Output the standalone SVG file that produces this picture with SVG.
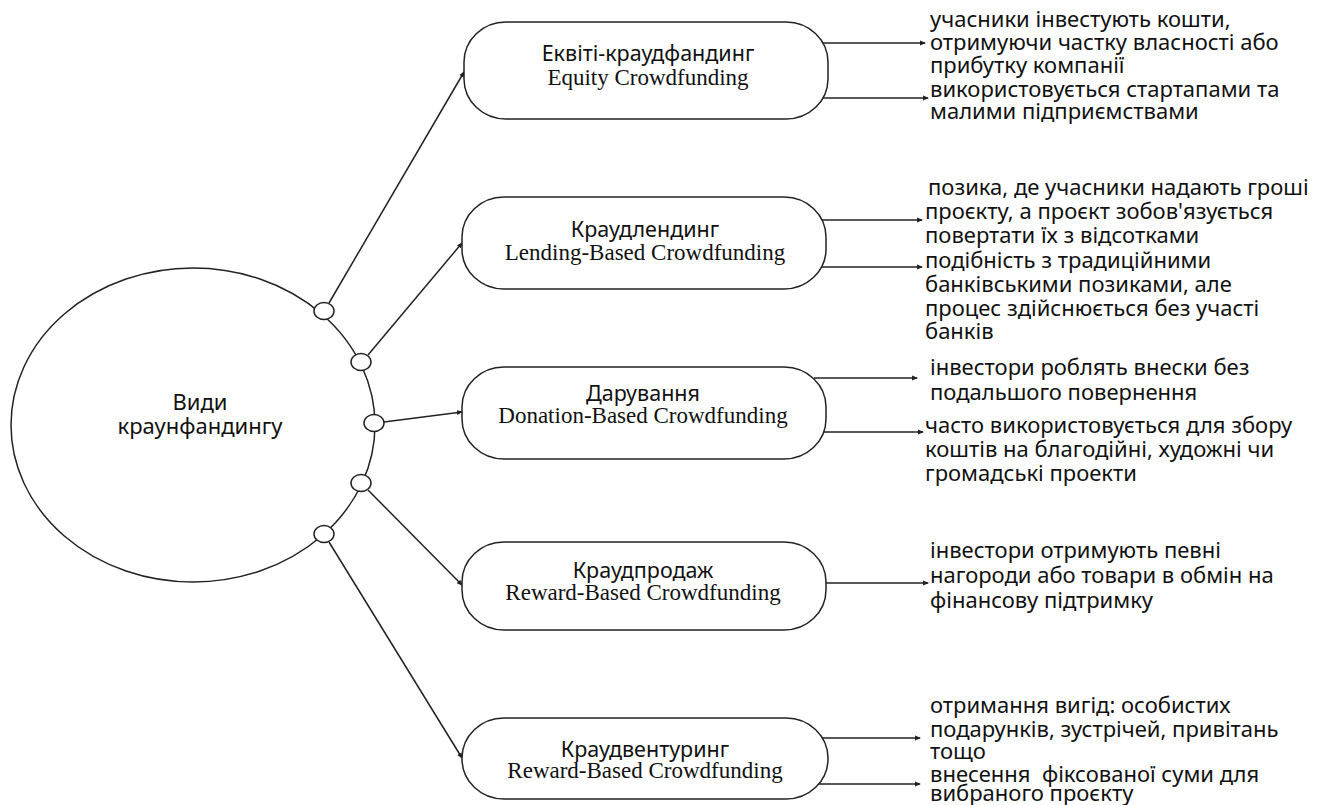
<svg xmlns="http://www.w3.org/2000/svg" width="1333" height="805" viewBox="0 0 1333 805">
<defs>
<marker id="ah" markerWidth="6" markerHeight="6" refX="5" refY="3" orient="auto" markerUnits="userSpaceOnUse">
<path d="M0,0.5 L6,3 L0,5.5 Z" fill="#222"/>
</marker>
<style>
.ln{stroke:#222;stroke-width:1.5;fill:none}
.box{fill:#fff;stroke:#222;stroke-width:1.5}
.dot{fill:#fff;stroke:#222;stroke-width:1.5}
.t1{font-family:"Noto Sans","Open Sans",sans-serif;font-size:21.5px;fill:#111;text-anchor:middle}
.t2{font-family:"Liberation Serif","Times New Roman",serif;font-size:23px;fill:#111;text-anchor:middle}
.d{font-family:"Noto Sans","Open Sans",sans-serif;font-size:22px;fill:#111}
.c{font-family:"Noto Sans","Open Sans",sans-serif;font-size:22px;fill:#111;text-anchor:middle}
</style>
</defs>
<rect width="1333" height="805" fill="#fff"/>
<g id="connectors">
<line class="ln" x1="329" y1="303" x2="464" y2="72" marker-end="url(#ah)"/>
<line class="ln" x1="368" y1="355" x2="462" y2="243" marker-end="url(#ah)"/>
<line class="ln" x1="384" y1="422" x2="462" y2="412" marker-end="url(#ah)"/>
<line class="ln" x1="368" y1="490" x2="462" y2="585" marker-end="url(#ah)"/>
<line class="ln" x1="329" y1="542" x2="462" y2="758" marker-end="url(#ah)"/>
<line class="ln" x1="823" y1="43" x2="925" y2="43" marker-end="url(#ah)"/>
<line class="ln" x1="823" y1="98" x2="928" y2="98" marker-end="url(#ah)"/>
<line class="ln" x1="822" y1="220" x2="922" y2="220" marker-end="url(#ah)"/>
<line class="ln" x1="821" y1="267" x2="922" y2="267" marker-end="url(#ah)"/>
<line class="ln" x1="814" y1="378" x2="917" y2="378" marker-end="url(#ah)"/>
<line class="ln" x1="823" y1="432" x2="923" y2="432" marker-end="url(#ah)"/>
<line class="ln" x1="826" y1="583" x2="928" y2="583" marker-end="url(#ah)"/>
<line class="ln" x1="822" y1="738" x2="920" y2="738" marker-end="url(#ah)"/>
<line class="ln" x1="819" y1="784" x2="920" y2="784" marker-end="url(#ah)"/>
</g>
<g id="main">
<ellipse class="box" cx="193" cy="425" rx="182" ry="157"/>
<text class="c" x="200" y="410">Види</text>
<text class="c" x="200" y="434">краунфандингу</text>
</g>
<g id="joints">
<ellipse class="dot" cx="324" cy="311" rx="10" ry="8.5"/>
<ellipse class="dot" cx="361" cy="362" rx="10" ry="8.5"/>
<ellipse class="dot" cx="374" cy="423" rx="10" ry="8.5"/>
<ellipse class="dot" cx="361" cy="483" rx="10" ry="8.5"/>
<ellipse class="dot" cx="324" cy="534" rx="10" ry="8.5"/>
</g>
<g id="n1">
<rect class="box" x="464" y="22" width="364" height="97" rx="42" ry="40"/>
<text class="t1" x="648" y="61">Еквіті-краудфандинг</text>
<text class="t2" x="648" y="85">Equity Crowdfunding</text>
</g>
<g id="n2">
<rect class="box" x="462" y="197" width="364" height="92" rx="42" ry="40"/>
<text class="t1" x="645" y="237">Краудлендинг</text>
<text class="t2" x="645" y="260">Lending-Based Crowdfunding</text>
</g>
<g id="n3">
<rect class="box" x="462" y="367" width="364" height="92" rx="42" ry="40"/>
<text class="t1" x="643" y="401">Дарування</text>
<text class="t2" x="643" y="423">Donation-Based Crowdfunding</text>
</g>
<g id="n4">
<rect class="box" x="462" y="542" width="364" height="88" rx="42" ry="40"/>
<text class="t1" x="643" y="578">Краудпродаж</text>
<text class="t2" x="643" y="600">Reward-Based Crowdfunding</text>
</g>
<g id="n5">
<rect class="box" x="462" y="718" width="366" height="81" rx="42" ry="40"/>
<text class="t1" x="645" y="757">Краудвентуринг</text>
<text class="t2" x="645" y="778">Reward-Based Crowdfunding</text>
</g>
<g id="d1">
<text class="d" x="930" y="27">учасники інвестують кошти,</text>
<text class="d" x="930" y="50">отримуючи частку власності або</text>
<text class="d" x="930" y="73">прибутку компанії</text>
<text class="d" x="930" y="97">використовується стартапами та</text>
<text class="d" x="930" y="119">малими підприємствами</text>
</g>
<g id="d2">
<text class="d" x="928" y="195">позика, де учасники надають гроші</text>
<text class="d" x="925" y="219">проєкту, а проєкт зобов'язується</text>
<text class="d" x="925" y="243">повертати їх з відсотками</text>
<text class="d" x="925" y="268">подібність з традиційними</text>
<text class="d" x="925" y="292">банківськими позиками, але</text>
<text class="d" x="925" y="316">процес здійснюється без участі</text>
<text class="d" x="925" y="339">банків</text>
</g>
<g id="d3">
<text class="d" x="930" y="375">інвестори роблять внески без</text>
<text class="d" x="930" y="400">подальшого повернення</text>
<text class="d" x="925" y="433">часто використовується для збору</text>
<text class="d" x="925" y="457">коштів на благодійні, художні чи</text>
<text class="d" x="925" y="481">громадські проекти</text>
</g>
<g id="d4">
<text class="d" x="930" y="558">інвестори отримують певні</text>
<text class="d" x="930" y="583">нагороди або товари в обмін на</text>
<text class="d" x="930" y="608">фінансову підтримку</text>
</g>
<g id="d5">
<text class="d" x="930" y="713">отримання вигід: особистих</text>
<text class="d" x="930" y="737">подарунків, зустрічей, привітань</text>
<text class="d" x="930" y="759">тощо</text>
<text class="d" x="930" y="782" xml:space="preserve">внесення  фіксованої суми для</text>
<text class="d" x="930" y="801">вибраного проєкту</text>
</g>
</svg>
